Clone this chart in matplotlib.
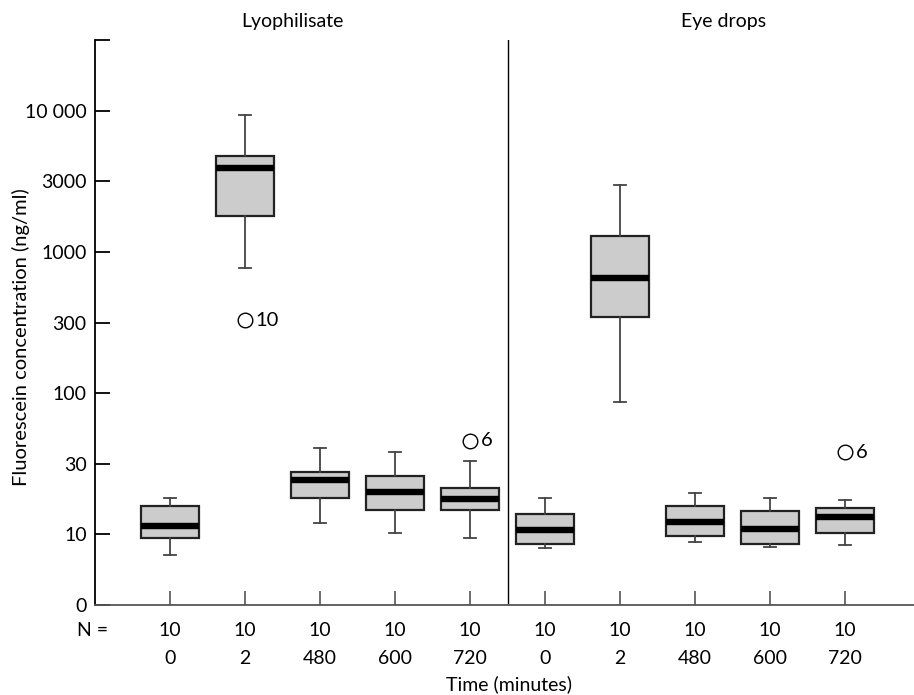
import matplotlib
matplotlib.use('Agg')
import matplotlib.pyplot as plt
from matplotlib.ticker import FixedLocator, FixedFormatter, NullLocator

plt.rcParams['font.family'] = ['Lato', 'DejaVu Sans']

# ---- data ----
panel_titles = ['Lyophilisate', 'Eye drops']
time_labels = ['0', '2', '480', '600', '720', '0', '2', '480', '600', '720']
n_values = [10, 10, 10, 10, 10, 10, 10, 10, 10, 10]
whisker_low = [7.1, 773, 12.0, 10.2, 9.5, 8.0, 87, 8.8, 8.1, 8.4]
q1 = [9.4, 1790, 18.1, 15.0, 15.0, 8.5, 346, 9.8, 8.6, 10.2]
median = [11.5, 3910, 24.2, 19.9, 17.9, 10.7, 650, 12.3, 11.0, 13.3]
q3 = [15.9, 4740, 27.5, 26.0, 21.4, 13.9, 1290, 16.0, 14.7, 15.4]
whisker_high = [18.0, 9280, 41.0, 38.0, 33.0, 18.0, 2970, 19.7, 18.1, 17.5]
outlier_pos = [2, 5, 10]
outlier_value = [329, 46, 38]
outlier_label = ['10', '6', '6']
ytick_values = [10**0.5, 10, 10**1.5, 100, 10**2.5, 1000, 10**3.5, 10000, 10**4.5]
ytick_labels = ['0', '10', '30', '100', '300', '1000', '3000', '10 000', '']

W, H = 914, 695
fig = plt.figure(figsize=(W / 100, H / 100), dpi=100)
ax = fig.add_axes([95 / W, 90 / H, (W - 95) / W, 565 / H])

positions = list(range(1, len(median) + 1))
stats = []
for i in range(len(median)):
    stats.append(dict(med=median[i], q1=q1[i], q3=q3[i],
                      whislo=whisker_low[i], whishi=whisker_high[i], fliers=[]))

ax.bxp(stats, positions=positions, widths=0.78, capwidths=0.16,
       showfliers=False, patch_artist=True,
       boxprops=dict(facecolor='#cccccc', edgecolor='#222222', linewidth=1.6),
       medianprops=dict(color='black', linewidth=4.6, solid_capstyle='butt'),
       whiskerprops=dict(color='#444444', linewidth=1.3),
       capprops=dict(color='#444444', linewidth=1.3))

ax.plot(outlier_pos, outlier_value, linestyle='none', marker='o', markersize=10.5,
        markerfacecolor='white', markeredgecolor='black', markeredgewidth=1.0)
for p, v, lab in zip(outlier_pos, outlier_value, outlier_label):
    ax.annotate(lab, (p, v), xytext=(7.5, 0), textcoords='offset points',
                ha='left', va='center', fontsize=14.5)

ax.set_yscale('log')
ax.set_ylim(10**0.5, 10**4.5)
ax.set_xlim(0, 1 + (W - 170) / 75)
ax.yaxis.set_major_locator(FixedLocator(ytick_values))
ax.yaxis.set_major_formatter(FixedFormatter(ytick_labels))
ax.yaxis.set_minor_locator(NullLocator())
ax.tick_params(axis='y', direction='in', length=10.5, width=1.3, color='black',
               labelsize=14, pad=6)

ax.set_xticks(positions)
ax.set_xticklabels([])
ax.tick_params(axis='x', direction='in', length=10, width=1.2, color='#555555')

ax.spines['top'].set_visible(False)
ax.spines['right'].set_visible(False)
ax.spines['left'].set_linewidth(1.3)
ax.spines['bottom'].set_color('#555555')
ax.spines['bottom'].set_linewidth(1.3)

ax.axvline(5.5, color='black', linewidth=1.0)

xt = ax.get_xaxis_transform()
for p, n, t in zip(positions, n_values, time_labels):
    ax.text(p, -26 / 565, str(n), transform=xt, ha='center', va='center', fontsize=14)
    ax.text(p, -53 / 565, t, transform=xt, ha='center', va='center', fontsize=14)
ax.text((108 - 170) / 75 + 1, -26 / 565, 'N =', transform=xt, ha='right', va='center',
        fontsize=14, clip_on=False)
ax.text((509 - 170) / 75 + 1, -79 / 565, 'Time (minutes)', transform=xt,
        ha='center', va='center', fontsize=14)

ax.text((292 - 170) / 75 + 1, 18 / 565 + 1, panel_titles[0], transform=xt,
        ha='center', va='center', fontsize=14)
ax.text((724 - 170) / 75 + 1, 18 / 565 + 1, panel_titles[1], transform=xt,
        ha='center', va='center', fontsize=14)

fig.text(21 / W, 1 - 337 / H, 'Fluorescein concentration (ng/ml)', rotation=90,
         ha='center', va='center', fontsize=14.5)

fig.savefig('out.png', dpi=100)
